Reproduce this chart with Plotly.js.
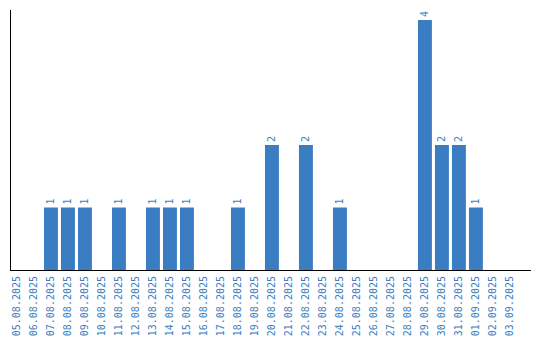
<!DOCTYPE html>
<html>
<head>
<meta charset="utf-8">
<script src="https://cdn.plot.ly/plotly-3.0.1.min.js"></script>
<style>html,body{margin:0;padding:0;background:#fff;}#chart{width:540px;height:340px;}</style>
</head>
<body>
<div id="chart"></div>
<script>
const dates = ["05.08.2025","06.08.2025","07.08.2025","08.08.2025","09.08.2025","10.08.2025","11.08.2025","12.08.2025","13.08.2025","14.08.2025","15.08.2025","16.08.2025","17.08.2025","18.08.2025","19.08.2025","20.08.2025","21.08.2025","22.08.2025","23.08.2025","24.08.2025","25.08.2025","26.08.2025","27.08.2025","28.08.2025","29.08.2025","30.08.2025","31.08.2025","01.09.2025","02.09.2025","03.09.2025"];
const counts = [0,0,1,1,1,0,1,0,1,1,1,0,0,1,0,2,0,2,0,1,0,0,0,0,4,2,2,1,0,0];

const blue = "#3a7dc2";
const fontFam = "DejaVu Sans Mono, monospace";
const trace = {
  type: "bar",
  x: dates,
  y: counts,
  text: counts.map(v => v > 0 ? String(v) : ""),
  textposition: "outside",
  textangle: -90,
  cliponaxis: false,
  textfont: {family: fontFam, size: 10, color: blue},
  marker: {color: blue},
  width: 0.82,
  hoverinfo: "none"
};
const layout = {
  width: 540, height: 340,
  margin: {l: 11, r: 9, t: 10, b: 70},
  paper_bgcolor: "#fff", plot_bgcolor: "#fff",
  showlegend: false,
  font: {family: fontFam, size: 10, color: blue},
  xaxis: {
    type: "category",
    range: [-0.35, 30.24],
    showgrid: false, zeroline: false,
    showline: true, linecolor: "#000", linewidth: 1,
    ticks: "", tickangle: -90,
    ticklabelstandoff: 1,
    tickfont: {family: fontFam, size: 10, color: blue},
    automargin: false
  },
  yaxis: {
    range: [0, 4.16],
    showgrid: false, zeroline: false,
    showline: true, linecolor: "#000", linewidth: 1,
    showticklabels: false, ticks: "",
    automargin: false
  }
};
Plotly.newPlot("chart", [trace], layout, {staticPlot: true, displayModeBar: false});
</script>
</body>
</html>
